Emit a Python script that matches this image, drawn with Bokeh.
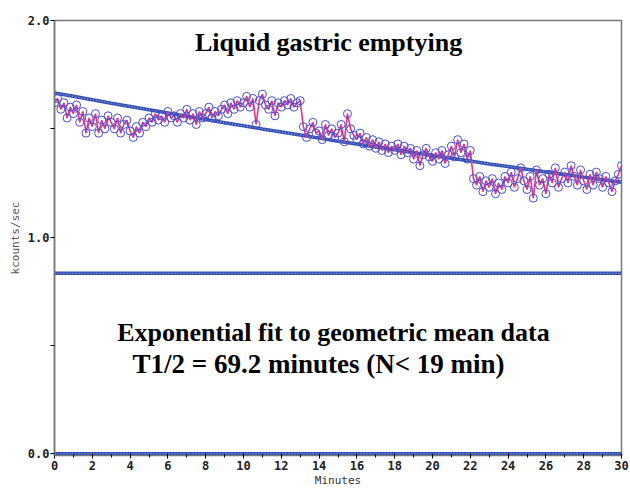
from bokeh.plotting import figure
from bokeh.models import Label, FixedTicker, NumeralTickFormatter, Range1d
from bokeh.embed import file_html
from bokeh.resources import INLINE

# ---- data ----
sample_interval_min = 1 / 6  # one frame every 10 s
counts = [
    1.62, 1.64, 1.59, 1.62, 1.55, 1.60,
    1.57, 1.61, 1.53, 1.58, 1.48, 1.55,
    1.51, 1.57, 1.48, 1.54, 1.50, 1.56,
    1.53, 1.50, 1.55, 1.48, 1.52, 1.54,
    1.49, 1.46, 1.51, 1.48, 1.53, 1.51,
    1.55, 1.53, 1.57, 1.54, 1.56, 1.53,
    1.58, 1.55, 1.56, 1.53, 1.57, 1.55,
    1.59, 1.54, 1.57, 1.52, 1.58, 1.55,
    1.57, 1.60, 1.55, 1.58, 1.56, 1.59,
    1.61, 1.57, 1.62, 1.59, 1.63, 1.60,
    1.62, 1.65, 1.60, 1.64, 1.52, 1.63,
    1.66, 1.61, 1.59, 1.63, 1.56, 1.62,
    1.60, 1.63, 1.61, 1.64, 1.60, 1.62,
    1.63, 1.51, 1.46, 1.50, 1.53, 1.48,
    1.49, 1.45, 1.52, 1.47, 1.50, 1.46,
    1.48, 1.52, 1.44, 1.57, 1.50, 1.47,
    1.45, 1.48, 1.43, 1.46, 1.42, 1.45,
    1.41, 1.44, 1.40, 1.43, 1.39, 1.42,
    1.40, 1.43, 1.38, 1.42, 1.39, 1.41,
    1.36, 1.40, 1.33, 1.38, 1.41, 1.37,
    1.35, 1.39, 1.36, 1.40, 1.34, 1.38,
    1.42, 1.37, 1.45, 1.39, 1.43, 1.36,
    1.40, 1.27, 1.24, 1.28, 1.21, 1.26,
    1.23, 1.27, 1.20, 1.25, 1.22, 1.28,
    1.25, 1.30, 1.23, 1.27, 1.32, 1.26,
    1.22, 1.28, 1.18, 1.31, 1.24, 1.27,
    1.20, 1.29, 1.25, 1.32, 1.23, 1.27,
    1.30, 1.25, 1.33, 1.28, 1.24, 1.31,
    1.26, 1.22, 1.29, 1.24, 1.30, 1.27,
    1.23, 1.28, 1.25, 1.21, 1.26, 1.29,
    1.33,
]
times = [i * sample_interval_min for i in range(len(counts))]

fit_t = list(range(31))
fit_vals = [1.665, 1.650, 1.634, 1.618, 1.603, 1.588, 1.573, 1.558, 1.543, 1.528,
            1.514, 1.499, 1.485, 1.471, 1.457, 1.443, 1.430, 1.416, 1.403, 1.390,
            1.377, 1.364, 1.351, 1.338, 1.326, 1.313, 1.301, 1.289, 1.277, 1.265,
            1.253]

ref_t = [0, 30]
half_level = [0.833, 0.833]
zero_level = [0.0, 0.0]

x_major = [0, 2, 4, 6, 8, 10, 12, 14, 16, 18, 20, 22, 24, 26, 28, 30]
x_minor = [1, 3, 5, 7, 9, 11, 13, 15, 17, 19, 21, 23, 25, 27, 29]
y_major = [0.0, 1.0, 2.0]
y_minor = [0.5, 1.5]

title_text = "Liquid gastric emptying"
note_line1 = "Exponential fit to geometric mean data"
note_line2 = "T1/2 = 69.2 minutes (N< 19 min)"

# ---- figure ----
BLUE = "#3351b2"
p = figure(width=630, height=489, output_backend="svg", toolbar_location=None,
           x_range=Range1d(0, 30), y_range=Range1d(-0.008, 2.0),
           min_border_left=54, min_border_right=9, min_border_top=20,
           min_border_bottom=34)
p.background_fill_color = "white"
p.border_fill_color = "white"
p.outline_line_color = "#777777"
p.outline_line_width = 1.5
p.xgrid.visible = False
p.ygrid.visible = False

# reference lines and fit (dense marker look)
for ys in (half_level, zero_level):
    p.line(ref_t, ys, line_color=BLUE, line_width=3.5)
    p.line(ref_t, ys, line_color="#a8b4e6", line_width=1, line_dash="1 2")
p.line(fit_t, fit_vals, line_color=BLUE, line_width=3.5)
p.line(fit_t, fit_vals, line_color="#a8b4e6", line_width=1, line_dash="1 2")

# data
p.line(times, counts, line_color="#e0358a", line_width=1.6)
p.scatter(times, counts, marker="circle", size=8, fill_alpha=0,
          line_color="#4a4ccc", line_width=1)

# axes
xa = p.xaxis[0]
xa.ticker = FixedTicker(ticks=x_major, minor_ticks=x_minor)
xa.axis_line_color = "#777777"
xa.major_tick_out = 3
xa.major_tick_in = 2
xa.minor_tick_out = 2
xa.minor_tick_in = 1
xa.major_label_standoff = 2
xa.major_label_text_font = "DejaVu Sans Mono"
xa.major_label_text_font_style = "bold"
xa.major_label_text_font_size = "12px"
xa.major_label_text_color = "#222222"
xa.axis_label = "Minutes"
xa.axis_label_text_font = "DejaVu Sans Mono"
xa.axis_label_text_font_style = "normal"
xa.axis_label_text_font_size = "11px"
xa.axis_label_text_color = "#333333"
xa.axis_label_standoff = 1

ya = p.yaxis[0]
ya.ticker = FixedTicker(ticks=y_major, minor_ticks=y_minor)
ya.formatter = NumeralTickFormatter(format="0.0")
ya.axis_line_color = "#777777"
ya.axis_line_width = 1.5
ya.major_tick_out = 4
ya.major_tick_in = 0
ya.minor_tick_out = 4
ya.minor_tick_in = 0
ya.major_label_standoff = 1
ya.major_label_text_font = "DejaVu Sans Mono"
ya.major_label_text_font_style = "bold"
ya.major_label_text_font_size = "12px"
ya.major_label_text_color = "#222222"
ya.axis_label = "kcounts/sec"
ya.axis_label_text_font = "DejaVu Sans Mono"
ya.axis_label_text_font_style = "normal"
ya.axis_label_text_font_size = "11px"
ya.axis_label_text_color = "#6a4d48"
ya.axis_label_standoff = 3

# texts inside the plot
p.add_layout(Label(x=14.5, y=1.898, text=title_text, text_align="center",
                   text_baseline="middle", text_font="Liberation Serif",
                   text_font_style="bold", text_font_size="26px", text_color="black"))
p.add_layout(Label(x=14.76, y=0.558, text=note_line1, text_align="center",
                   text_baseline="middle", text_font="Liberation Serif",
                   text_font_style="bold", text_font_size="26px", text_color="black"))
p.add_layout(Label(x=13.97, y=0.414, text=note_line2, text_align="center",
                   text_baseline="middle", text_font="Liberation Serif",
                   text_font_style="bold", text_font_size="27px", text_color="black"))

open("out.html", "w").write(file_html(p, INLINE))
